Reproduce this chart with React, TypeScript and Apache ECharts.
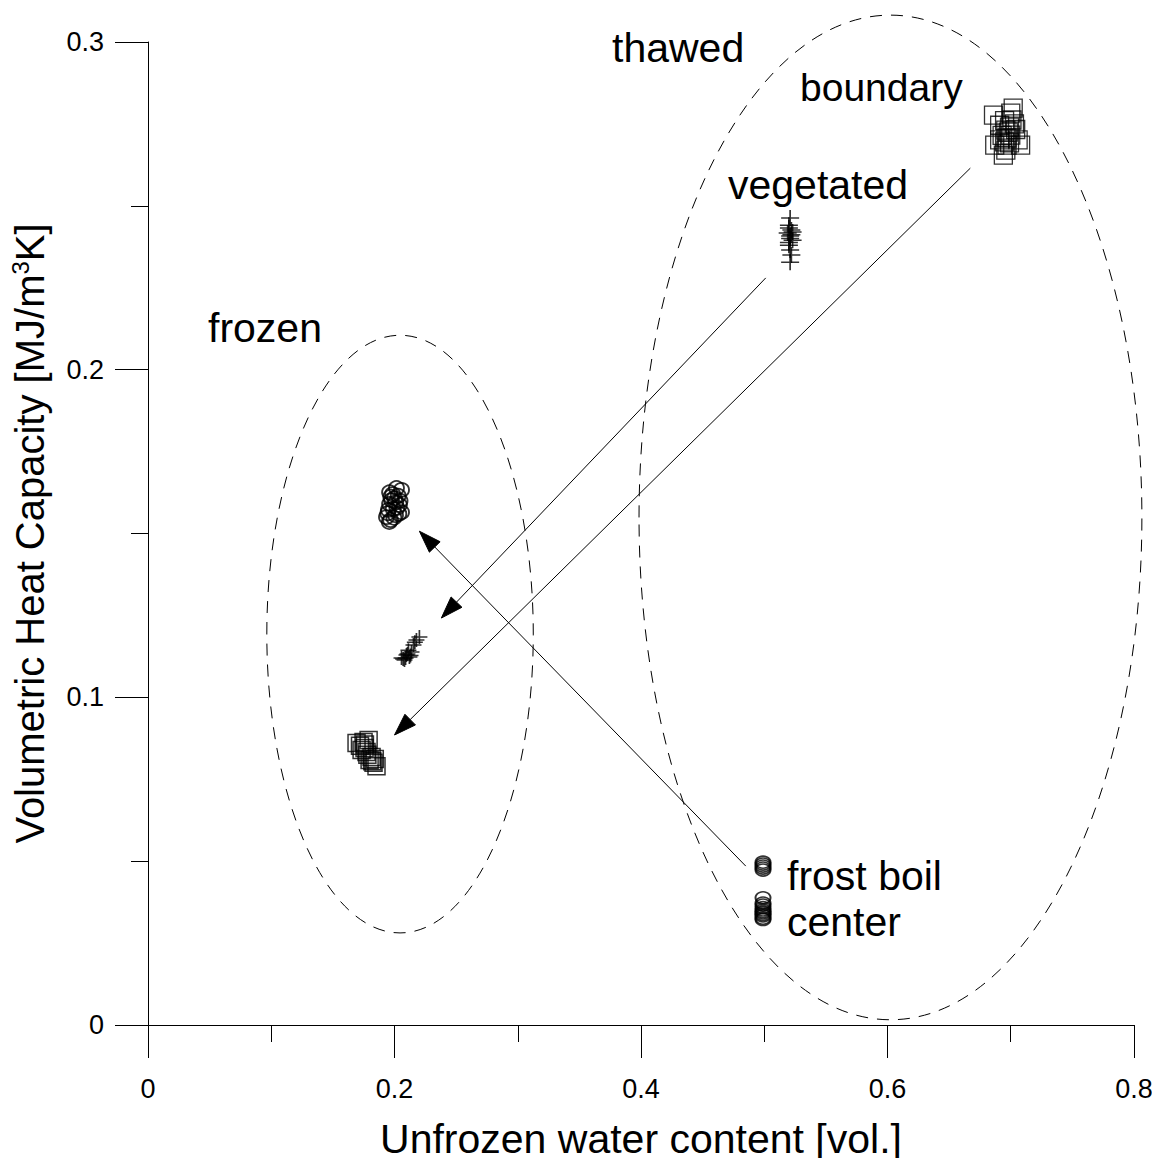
import React, { useEffect, useRef } from "react";
import * as echarts from "echarts";

// ---- data ----
const xTicks = ["0", "0.2", "0.4", "0.6", "0.8"];
const yTicks = ["0", "0.1", "0.2", "0.3"];

// thawed season
const thawedBoundary: number[][] = [
  [0.686, 0.2777], [0.700, 0.2783], [0.702, 0.2798], [0.691, 0.2746],
  [0.696, 0.2731], [0.700, 0.2716], [0.691, 0.2701], [0.697, 0.2685],
  [0.708, 0.2685], [0.687, 0.2685], [0.696, 0.2670], [0.694, 0.2655],
  [0.706, 0.2701], [0.701, 0.2762], [0.697, 0.2707], [0.699, 0.2740],
  [0.695, 0.2760], [0.698, 0.2725], [0.703, 0.2750], [0.693, 0.2715],
  [0.699, 0.2692], [0.704, 0.2733], [0.695, 0.2695],
];
const thawedVegetated: number[][] = [
  [0.521, 0.2463], [0.520, 0.2441], [0.522, 0.2426], [0.519, 0.2417],
  [0.521, 0.2408], [0.523, 0.2395], [0.520, 0.2380], [0.522, 0.2350],
  [0.521, 0.2328], [0.520, 0.2432], [0.522, 0.2412], [0.521, 0.2400],
  [0.520, 0.2388], [0.523, 0.2420], [0.521, 0.2365],
];
const thawedFrostBoil: number[][] = [
  [0.499, 0.0497], [0.499, 0.0491], [0.499, 0.0485], [0.499, 0.0479], [0.499, 0.0473],
  [0.499, 0.0388], [0.499, 0.0372], [0.499, 0.0366], [0.499, 0.0358], [0.499, 0.0351],
  [0.499, 0.0346], [0.499, 0.0342], [0.499, 0.0337], [0.499, 0.0333], [0.499, 0.0326],
  [0.499, 0.0322],
];

// frozen season
const frozenFrostBoil: number[][] = [
  [0.196, 0.1626], [0.2016, 0.1639], [0.2057, 0.1633], [0.1976, 0.1602],
  [0.204, 0.1587], [0.1951, 0.1572], [0.2008, 0.1556], [0.1968, 0.1541],
  [0.2057, 0.1565], [0.200, 0.1608], [0.1935, 0.1550], [0.1985, 0.1620],
  [0.2030, 0.1615], [0.1960, 0.1590], [0.2010, 0.1595], [0.1990, 0.1575],
  [0.2035, 0.1560], [0.1945, 0.1562], [0.1995, 0.1548], [0.2045, 0.1600],
  [0.1970, 0.1612], [0.2020, 0.1578], [0.1958, 0.1535],
];
const frozenVegetated: number[][] = [
  [0.2057, 0.1120], [0.2097, 0.1129], [0.2138, 0.1138], [0.2113, 0.1144],
  [0.2154, 0.1160], [0.2178, 0.1175], [0.2202, 0.1184], [0.2081, 0.1114],
  [0.2121, 0.1123], [0.2070, 0.1117], [0.2105, 0.1132], [0.2090, 0.1120],
  [0.2130, 0.1128], [0.2165, 0.1168],
];
const frozenBoundary: number[][] = [
  [0.1692, 0.0861], [0.1749, 0.0864], [0.179, 0.0870], [0.1733, 0.0839],
  [0.1773, 0.0833], [0.1814, 0.0818], [0.183, 0.0800], [0.1854, 0.0790],
  [0.1798, 0.0809], [0.1757, 0.0845], [0.1780, 0.0825], [0.1720, 0.0852],
  [0.1820, 0.0805], [0.1760, 0.0856], [0.1840, 0.0812],
];

// dashed ellipses: [cx, cy, rx, ry] in data units
const ellipses: number[][] = [
  [0.2045, 0.1193, 0.1081, 0.0912], // frozen
  [0.6024, 0.1549, 0.204, 0.1533], // thawed
];

// arrows: [x1, y1, x2 (tip), y2 (tip)] in data units
const arrows: number[][] = [
  [0.6672, 0.2615, 0.2, 0.0885],
  [0.5012, 0.228, 0.238, 0.1242],
  [0.485, 0.0485, 0.2202, 0.1507],
];

const FONT = "'Liberation Sans', Arial, Helvetica, sans-serif";
const PLUS = "path://M0,8L16,8M8,0L8,16";

export default function App() {
  const ref = useRef<HTMLDivElement>(null);

  useEffect(() => {
    if (!ref.current) return;
    const chart = echarts.init(ref.current, null, { renderer: "svg" });

    const scatterBase = (data: number[][], symbol: string, size: any, bw: number) => ({
      type: "scatter",
      data,
      symbol,
      symbolSize: size,
      itemStyle: { color: "transparent", borderColor: "#000", borderWidth: bw },
      z: 3,
    });

    const annotation = (text: string, x: number, y: number, size = 41) => ({
      type: "text",
      x,
      y,
      style: {
        text,
        fill: "#000",
        font: `${size}px ${FONT}`,
        textAlign: "left",
        textVerticalAlign: "middle",
      },
    });

    chart.setOption({
      animation: false,
      backgroundColor: "#fff",
      textStyle: { fontFamily: FONT, color: "#000" },
      grid: { left: 143, right: 26, top: 42, bottom: 141, containLabel: false },
      xAxis: {
        type: "value",
        min: 0,
        max: 0.8,
        interval: 0.2,
        name: "Unfrozen water content [vol.]",
        nameLocation: "middle",
        nameGap: 93,
        nameTextStyle: { fontSize: 41, color: "#000", fontFamily: FONT },
        axisLine: { show: true, lineStyle: { color: "#000", width: 1 } },
        axisTick: { show: true, length: 33, lineStyle: { color: "#000" } },
        minorTick: { show: true, splitNumber: 2, length: 17, lineStyle: { color: "#000" } },
        splitLine: { show: false },
        axisLabel: {
          fontSize: 27,
          color: "#000",
          margin: 50,
          fontFamily: FONT,
          formatter: (v: number) => xTicks[Math.round(v / 0.2)] ?? String(v),
        },
      },
      yAxis: {
        type: "value",
        min: 0,
        max: 0.3,
        interval: 0.1,
        name: "Volumetric Heat Capacity [MJ/m{sup|3}K]",
        nameLocation: "middle",
        nameGap: 96,
        nameTextStyle: {
          fontSize: 40,
          color: "#000",
          fontFamily: FONT,
          lineHeight: 44,
          rich: { sup: { fontSize: 24, verticalAlign: "top", lineHeight: 44, fontFamily: FONT } },
        },
        axisLine: { show: true, lineStyle: { color: "#000", width: 1 } },
        axisTick: { show: true, length: 33, lineStyle: { color: "#000" } },
        minorTick: { show: true, splitNumber: 2, length: 17, lineStyle: { color: "#000" } },
        splitLine: { show: false },
        axisLabel: {
          fontSize: 27,
          color: "#000",
          margin: 44,
          padding: [6, 0, 0, 0],
          fontFamily: FONT,
          formatter: (v: number) => yTicks[Math.round(v / 0.1)] ?? String(v),
        },
      },
      series: [
        {
          type: "custom",
          coordinateSystem: "cartesian2d",
          data: ellipses,
          encode: { x: 0, y: 1 },
          silent: true,
          z: 1,
          renderItem: (params: any, api: any) => {
            const c = api.coord([api.value(0), api.value(1)]);
            const s = api.size([api.value(2), api.value(3)]);
            return {
              type: "ellipse",
              shape: { cx: c[0], cy: c[1], rx: s[0], ry: s[1] },
              style: { fill: "none", stroke: "#000", lineWidth: 1, lineDash: [12, 9] },
            };
          },
        },
        {
          type: "custom",
          coordinateSystem: "cartesian2d",
          data: arrows,
          encode: { x: [0, 2], y: [1, 3] },
          silent: true,
          z: 2,
          renderItem: (params: any, api: any) => {
            const p1 = api.coord([api.value(0), api.value(1)]);
            const p2 = api.coord([api.value(2), api.value(3)]);
            const dx = p2[0] - p1[0];
            const dy = p2[1] - p1[1];
            const len = Math.sqrt(dx * dx + dy * dy) || 1;
            const ux = dx / len;
            const uy = dy / len;
            const L = 22;
            const W = 7.5;
            const bx = p2[0] - ux * L;
            const by = p2[1] - uy * L;
            return {
              type: "group",
              children: [
                {
                  type: "line",
                  shape: { x1: p1[0], y1: p1[1], x2: bx, y2: by },
                  style: { stroke: "#000", lineWidth: 1 },
                },
                {
                  type: "polygon",
                  shape: {
                    points: [
                      [p2[0], p2[1]],
                      [bx - uy * W, by + ux * W],
                      [bx + uy * W, by - ux * W],
                    ],
                  },
                  style: { fill: "#000", stroke: "#000", lineWidth: 1 },
                },
              ],
            };
          },
        },
        scatterBase(thawedBoundary, "rect", 18, 1.3),
        scatterBase(frozenBoundary, "rect", 17, 1.5),
        scatterBase(thawedVegetated, PLUS, [18, 16], 1.6),
        scatterBase(frozenVegetated, PLUS, [16, 14], 1.6),
        scatterBase(thawedFrostBoil, "circle", [15, 12], 1.8),
        scatterBase(frozenFrostBoil, "circle", [15, 14], 1.8),
      ],
      graphic: [
        annotation("thawed", 612, 48),
        annotation("boundary", 800, 87, 39),
        annotation("vegetated", 728, 185),
        annotation("frozen", 208, 328),
        annotation("frost boil", 787, 876),
        annotation("center", 787, 922),
      ],
    });

    return () => chart.dispose();
  }, []);

  return <div ref={ref} style={{ width: 1160, height: 1166, margin: -8 }} />;
}
